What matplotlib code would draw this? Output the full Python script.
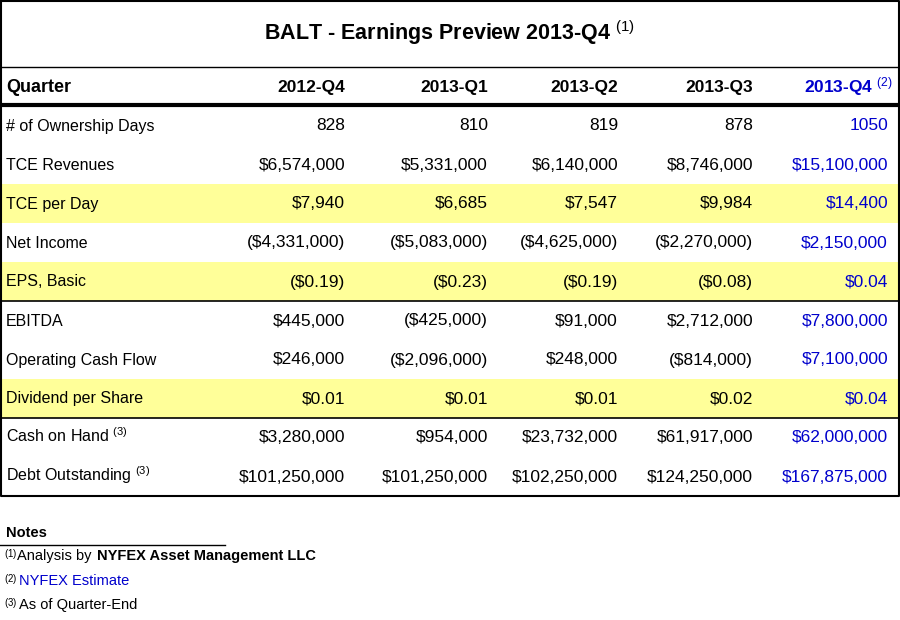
import matplotlib.pyplot as plt

plt.rcParams['font.family'] = ['Liberation Sans', 'DejaVu Sans']
plt.rcParams['mathtext.fontset'] = 'custom'
plt.rcParams['mathtext.rm'] = 'Liberation Sans'
plt.rcParams['mathtext.it'] = 'Liberation Sans'

title = 'BALT - Earnings Preview 2013-Q4 $^{(1)}$'
quarters = ['2012-Q4', '2013-Q1', '2013-Q2', '2013-Q3', '2013-Q4 $^{(2)}$']
row_labels = ['# of Ownership Days', 'TCE Revenues', 'TCE per Day', 'Net Income',
              'EPS, Basic', 'EBITDA', 'Operating Cash Flow', 'Dividend per Share',
              'Cash on Hand $^{(3)}$', 'Debt Outstanding $^{(3)}$']
values = [
    ['828', '810', '819', '878', '1050'],
    ['$6,574,000', '$5,331,000', '$6,140,000', '$8,746,000', '$15,100,000'],
    ['$7,940', '$6,685', '$7,547', '$9,984', '$14,400'],
    ['($4,331,000)', '($5,083,000)', '($4,625,000)', '($2,270,000)', '$2,150,000'],
    ['($0.19)', '($0.23)', '($0.19)', '($0.08)', '$0.04'],
    ['$445,000', '($425,000)', '$91,000', '$2,712,000', '$7,800,000'],
    ['$246,000', '($2,096,000)', '$248,000', '($814,000)', '$7,100,000'],
    ['$0.01', '$0.01', '$0.01', '$0.02', '$0.04'],
    ['$3,280,000', '$954,000', '$23,732,000', '$61,917,000', '$62,000,000'],
    ['$101,250,000', '$101,250,000', '$102,250,000', '$124,250,000', '$167,875,000'],
]
highlight = [2, 4, 7]
ruled_below = [4, 7]

blue = '#0000cc'
yellow = '#ffff99'
col_right = [345, 488, 618, 753, 888]

fig = plt.figure(figsize=(9, 6.2), dpi=100)
ax = fig.add_axes([0, 0, 1, 1])
ax.set_xlim(0, 900)
ax.set_ylim(620, 0)
ax.axis('off')

row_h = 39
top = 106
for i, (lab, vals) in enumerate(zip(row_labels, values)):
    y0 = top + i * row_h
    if i in highlight:
        ax.add_patch(plt.Rectangle((1, y0), 898, row_h, color=yellow, lw=0))
    if i in ruled_below:
        ax.plot([1, 899], [y0 + row_h, y0 + row_h], color='black', lw=1.2)
    yc = y0 + row_h / 2 + 5
    ax.text(6, yc, lab, fontsize=11.5, va='baseline', ha='left')
    for j, v in enumerate(vals):
        ax.text(col_right[j], yc, v, fontsize=12.5, va='baseline', ha='right',
                color=blue if j == 4 else 'black')

# header
ax.text(450, 40, title, fontsize=15.5, fontweight='bold', ha='center', va='baseline')
ax.text(6, 92, 'Quarter', fontsize=13, fontweight='bold', ha='left', va='baseline')
for j, q in enumerate(quarters):
    x = col_right[j] if j < 4 else 893
    ax.text(x, 92, q, fontsize=12.5, fontweight='bold', ha='right', va='baseline',
            color=blue if j == 4 else 'black')

# borders
bottom = top + len(row_labels) * row_h
ax.plot([1, 899, 899, 1, 1], [1, 1, bottom, bottom, 1], color='black', lw=1.5)
ax.plot([1, 899], [67, 67], color='black', lw=1)
ax.plot([1, 899], [105, 105], color='black', lw=3)

# notes
ax.text(6, 537, 'Notes', fontsize=10.5, fontweight='bold', va='baseline')
ax.plot([0, 225], [545, 545], color='black', lw=1)
ax.text(4, 556, '$^{(1)}$', fontsize=10, va='center')
ax.text(17, 556, 'Analysis by ', fontsize=10.5, va='center')
ax.text(97, 556, 'NYFEX Asset Management LLC', fontsize=10.5, fontweight='bold', va='center')
ax.text(4, 581, '$^{(2)}$', fontsize=10, va='center')
ax.text(19, 581, 'NYFEX Estimate', fontsize=10.5, va='center', color=blue)
ax.text(4, 605, '$^{(3)}$', fontsize=10, va='center')
ax.text(19, 605, 'As of Quarter-End', fontsize=10.5, va='center')

fig.savefig('out.png', dpi=100)
